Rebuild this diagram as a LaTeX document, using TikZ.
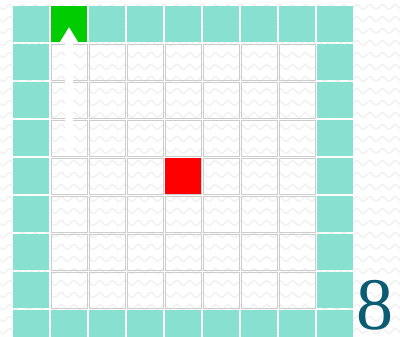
\documentclass[tikz,border=0pt]{standalone}
\usepackage{fontspec}
\newfontfamily\numfont{Liberation Serif}
\usetikzlibrary{arrows.meta}
\definecolor{tealcol}{HTML}{88E0D0}
\definecolor{goalcol}{HTML}{00CC00}
\definecolor{gridgray}{HTML}{CDCDCD}
\definecolor{wavecol}{HTML}{F0F0F0}
\definecolor{numcol}{HTML}{0B5C73}
\begin{document}
\begin{tikzpicture}[x=1pt,y=-1pt,
  cellin/.style={minimum size=36pt, inner sep=0pt, outer sep=0pt, draw=gridgray, line width=1pt},
  tealcell/.style={minimum size=36pt, inner sep=0pt, outer sep=0pt, fill=tealcol},
  goalcell/.style={minimum size=36pt, inner sep=0pt, outer sep=0pt, fill=goalcol},
  redcell/.style={minimum size=36pt, inner sep=0pt, outer sep=0pt, fill=red},
  wave/.style={wavecol, line width=1.3pt},
  arrowst/.style={white, line width=8pt, -{Triangle[length=15pt,width=17pt]}},
  numst/.style={anchor=base, text=numcol, inner sep=0pt, font=\numfont\fontsize{74}{74}\selectfont}]
\useasboundingbox (0,0) rectangle (400,337);
\fill[white] (0,0) rectangle (400,337);
% background wave pattern
\foreach \r in {0,...,28}
  \draw[wave] plot[domain=0:400, samples=161, smooth] (\x, {7+12*\r + 2.5*sin(28*\x)});
% interior cells
\foreach \i in {1,...,7}
  \foreach \j in {1,...,7}
    \node[cellin] (c-\i-\j) at ({31+38*\i}, {24.5+38*\j}) {};
% border cells
\foreach \i in {0,2,3,4,5,6,7,8}
  \node[tealcell] (c-\i-0) at ({31+38*\i}, 24.5) {};
\foreach \i in {0,...,8}
  \node[tealcell] (c-\i-8) at ({31+38*\i}, {24.5+38*8}) {};
\foreach \j in {1,...,7}{
  \node[tealcell] (c-0-\j) at (31, {24.5+38*\j}) {};
  \node[tealcell] (c-8-\j) at ({31+38*8}, {24.5+38*\j}) {};
}
% goal and obstacle
\node[goalcell] (goal) at (69, 24.5) {};
\node[redcell] (block) at ({31+38*4}, {24.5+38*4}) {};
% arrow
\coordinate (tip) at (69, 27);
\draw[arrowst] (c-1-3.south) -- (tip);
% number
\node[numst] (num) at (374.5, 330) {8};
\end{tikzpicture}
\end{document}
